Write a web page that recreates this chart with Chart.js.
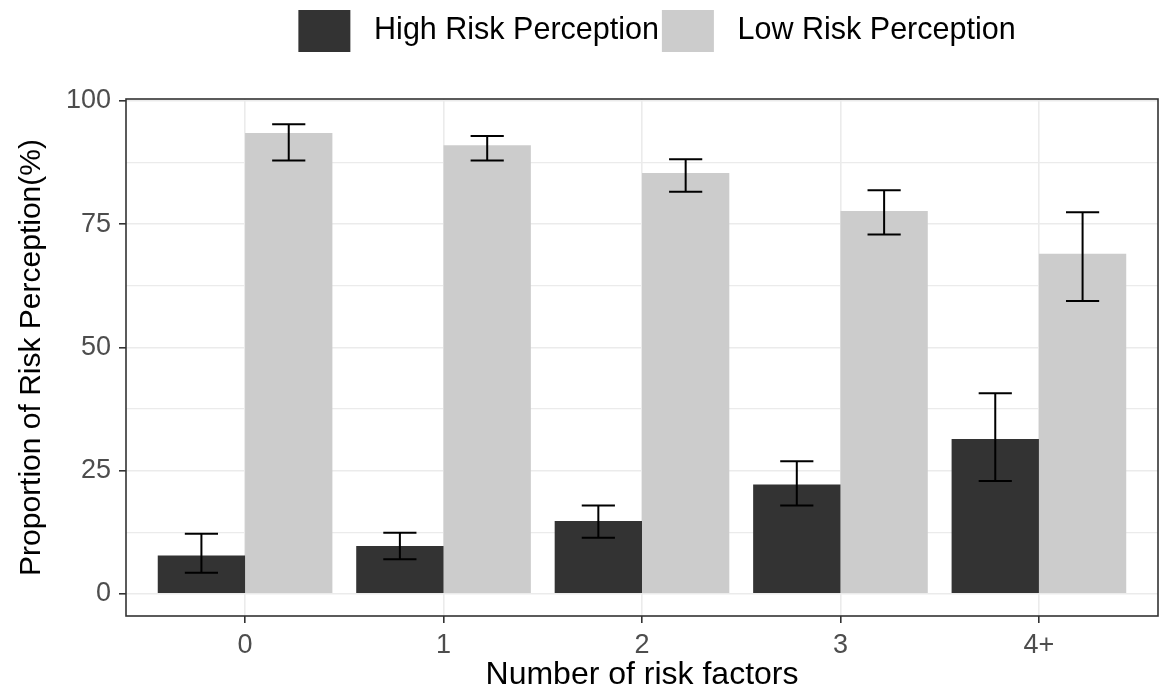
<!DOCTYPE html>
<html>
<head>
<meta charset="utf-8">
<script src="https://cdn.jsdelivr.net/npm/chart.js@4/dist/chart.umd.min.js"></script>
<style>
  html, body { margin: 0; padding: 0; background: #fff; }
  #wrap { width: 1162px; height: 696px; }
</style>
</head>
<body>
<div id="wrap"><canvas id="riskChart" width="1162" height="696"></canvas></div>
<script>
// categories and values
const categories = ['0', '1', '2', '3', '4+'];
const highRisk = [7.8, 9.7, 14.8, 22.2, 31.4];
const highLower = [4.3, 7.0, 11.4, 17.9, 22.9];
const highUpper = [12.2, 12.4, 17.9, 26.9, 40.7];
const lowRisk = [93.5, 91.0, 85.4, 77.7, 69.0];
const lowLower = [87.9, 87.9, 81.6, 72.9, 59.4];
const lowUpper = [95.3, 92.9, 88.2, 81.9, 77.4];
const yTicks = [0, 12.5, 25, 37.5, 50, 62.5, 75, 87.5, 100];

const FONT = "'Liberation Sans', Arial, sans-serif";

function toPoints(values) {
    return values.map((v, i) => ({ x: i, y: v }));
}

// draws the error bars and the panel border on top of the bars
const errorBarPlugin = {
    id: 'errorBars',
    afterLayout(chart) {
        // legend in the original sits a bit right of centre
        if (chart.legend) chart.legend.left += 30;
    },
    afterDatasetsDraw(chart) {
        const ctx = chart.ctx;
        const yScale = chart.scales.y;
        ctx.save();
        chart.data.datasets.forEach((ds, di) => {
            const meta = chart.getDatasetMeta(di);
            meta.data.forEach((bar, i) => {
                const yLo = yScale.getPixelForValue(ds.errLower[i]);
                const yHi = yScale.getPixelForValue(ds.errUpper[i]);
                const half = bar.width * 0.19;
                ctx.strokeStyle = '#000';
                ctx.lineWidth = 2;
                ctx.beginPath();
                ctx.moveTo(bar.x, yLo);
                ctx.lineTo(bar.x, yHi);
                ctx.moveTo(bar.x - half, yLo);
                ctx.lineTo(bar.x + half, yLo);
                ctx.moveTo(bar.x - half, yHi);
                ctx.lineTo(bar.x + half, yHi);
                ctx.stroke();
            });
        });
        const a = chart.chartArea;
        ctx.strokeStyle = '#333';
        ctx.lineWidth = 1.6;
        ctx.strokeRect(a.left, a.top, a.right - a.left, a.bottom - a.top);
        ctx.restore();
    }
};

const ctx = document.getElementById('riskChart');
new Chart(ctx, {
    type: 'bar',
    data: {
        datasets: [{
            label: 'High Risk Perception',
            data: toPoints(highRisk),
            errLower: highLower,
            errUpper: highUpper,
            backgroundColor: '#333333',
            borderWidth: 0
        }, {
            label: 'Low Risk Perception',
            data: toPoints(lowRisk),
            errLower: lowLower,
            errUpper: lowUpper,
            backgroundColor: '#cccccc',
            borderWidth: 0
        }]
    },
    options: {
        responsive: false,
        animation: false,
        devicePixelRatio: 1,
        categoryPercentage: 0.88,
        barPercentage: 1.0,
        layout: { padding: { left: 0, right: 4, top: 7, bottom: 0 } },
        plugins: {
            tooltip: { enabled: false },
            // empty title used as spacer between legend and panel
            title: {
                display: true,
                text: '',
                position: 'top',
                weight: 500,
                fullSize: false,
                font: { size: 10, lineHeight: 1 },
                padding: { top: 0, bottom: 27 }
            },
            legend: {
                position: 'top',
                fullSize: false,
                labels: {
                    boxWidth: 52,
                    boxHeight: 42,
                    padding: 3,
                    color: '#000',
                    font: { family: FONT, size: 30.5 },
                    generateLabels(chart) {
                        const items = Chart.defaults.plugins.legend.labels.generateLabels(chart);
                        items.forEach(it => { it.text = ' ' + it.text; it.lineWidth = 0; });
                        return items;
                    }
                }
            }
        },
        scales: {
            x: {
                type: 'linear',
                min: -0.6,
                max: 4.6,
                offset: false,
                afterBuildTicks(scale) {
                    scale.ticks = categories.map((c, i) => ({ value: i }));
                },
                afterFit(scale) { scale.height = 80; },
                ticks: {
                    color: '#4d4d4d',
                    font: { family: FONT, size: 27 },
                    padding: 6,
                    maxRotation: 0,
                    callback: (v) => categories[v]
                },
                grid: {
                    offset: false,
                    color: '#ebebeb',
                    lineWidth: 1.6,
                    tickLength: 7,
                    tickColor: '#333',
                    tickWidth: 1.6
                },
                border: { display: false },
                title: {
                    display: true,
                    text: 'Number of risk factors',
                    color: '#000',
                    font: { family: FONT, size: 32 },
                    padding: { top: 0, bottom: 2 }
                }
            },
            y: {
                min: -4.5,
                max: 100.4,
                afterBuildTicks(scale) {
                    scale.ticks = yTicks.map(v => ({ value: v }));
                },
                afterFit(scale) { scale.width = 126; },
                ticks: {
                    color: '#4d4d4d',
                    font: { family: FONT, size: 27 },
                    padding: 8,
                    callback: (v) => (v % 25 === 0 ? String(v) : '')
                },
                grid: {
                    color: '#ebebeb',
                    lineWidth: (c) => (c.tick && c.tick.value % 25 === 0 ? 1.6 : 1.2),
                    tickLength: 7,
                    tickColor: (c) => (c.tick && c.tick.value % 25 === 0 ? '#333' : 'rgba(0,0,0,0)'),
                    tickWidth: 1.6
                },
                border: { display: false },
                title: {
                    display: true,
                    text: 'Proportion of Risk Perception(%)',
                    color: '#000',
                    font: { family: FONT, size: 30 },
                    padding: { top: 14, bottom: 0 }
                }
            }
        }
    },
    plugins: [errorBarPlugin]
});
</script>
</body>
</html>
